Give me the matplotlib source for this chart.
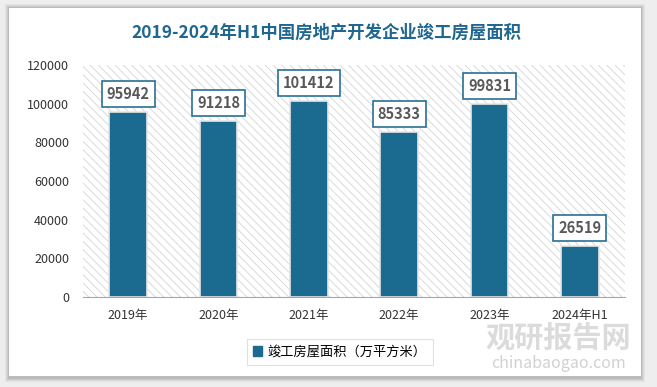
import matplotlib.pyplot as plt
from matplotlib.patches import Rectangle

plt.rcParams['font.family'] = ['Noto Sans CJK SC', 'DejaVu Sans']
plt.rcParams['hatch.linewidth'] = 0.6

years = ['2019年', '2020年', '2021年', '2022年', '2023年', '2024年H1']
area = [95942, 91218, 101412, 85333, 99831, 26519]
yticks = [0, 20000, 40000, 60000, 80000, 100000, 120000]

W, H = 657, 387
fig = plt.figure(figsize=(W / 100, H / 100), dpi=100)
fig.patch.set_facecolor('#eeeeee')

# card with soft shadow
for i, a in enumerate([0.04, 0.05, 0.06, 0.08]):
    d = 4 - i
    fig.patches.append(Rectangle(((9 - d) / W, 1 - (378 + d) / H), (632 + 2 * d) / W, (370 + 2 * d) / H,
                                 transform=fig.transFigure, facecolor='black', alpha=a,
                                 edgecolor='none', zorder=-3))
fig.patches.append(Rectangle((9 / W, 1 - 376 / H), 632 / W, 368 / H, transform=fig.transFigure,
                             facecolor='white', edgecolor='none', zorder=-2))

fig.text(326 / W, 1 - 33 / H, '2019-2024年H1中国房地产开发企业竣工房屋面积', ha='center', va='center',
         fontsize=12.5, fontweight='bold', color='#1f6690')

ax = fig.add_axes([83 / W, 1 - 297 / H, 542 / W, 232 / H])
ax.set_facecolor('none')
ax.add_patch(Rectangle((0, 0), 1, 1, transform=ax.transAxes, facecolor='white',
                       edgecolor='#d4d4d4', linewidth=0, hatch='\\\\\\\\', zorder=0))

x = range(len(years))
bars = ax.bar(x, area, width=0.42, color='#1b6a8f', edgecolor='#e6e6e6', linewidth=1.2, zorder=3)
for xi, v in zip(x, area):
    ax.annotate(str(v), (xi, v), xytext=(0, 7), textcoords='offset points', ha='center', va='bottom',
                fontsize=10.5, fontweight='bold', color='#595959', zorder=5,
                bbox=dict(boxstyle='square,pad=0.35', facecolor='white', edgecolor='#2a7095', linewidth=1.2))

ax.set_xlim(-0.5, len(years) - 0.5)
ax.set_ylim(0, 120000)
ax.set_yticks(yticks)
ax.set_yticklabels([str(t) for t in yticks])
ax.set_xticks(list(x))
ax.set_xticklabels(years)
ax.tick_params(length=0, labelsize=9, colors='#333333')
ax.tick_params(axis='x', pad=9)
ax.tick_params(axis='y', pad=10)
for s in ['top', 'right', 'left']:
    ax.spines[s].set_visible(False)
ax.spines['bottom'].set_color('#a6a6a6')
ax.spines['bottom'].set_zorder(4)

leg = fig.legend([Rectangle((0, 0), 1, 1, color='#1b6a8f')], ['竣工房屋面积（万平方米）'],
                 loc='center', bbox_to_anchor=(340 / W, 1 - 352 / H), fontsize=9.5,
                 frameon=True, fancybox=False, edgecolor='#d9d9d9', handlelength=0.7,
                 handleheight=0.7, handletextpad=0.4, borderpad=0.5)
leg.get_frame().set_linewidth(0.8)

# watermark
fig.text(558 / W, 1 - 338 / H, '观研报告网', ha='center', va='center', fontsize=21,
         fontweight='bold', color='#9a9a9a', alpha=0.35)
fig.text(558 / W, 1 - 363 / H, 'chinabaogao.com', ha='center', va='center', fontsize=11.5,
         color='#9a9a9a', alpha=0.45)

fig.savefig('out.png', dpi=100, facecolor=fig.get_facecolor())
